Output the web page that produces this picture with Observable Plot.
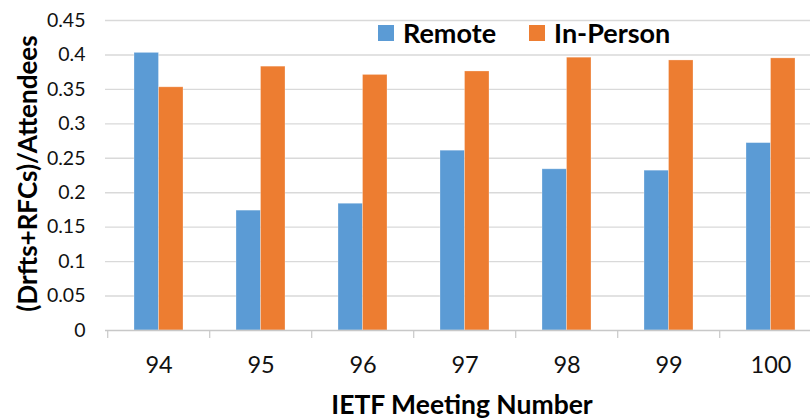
<!DOCTYPE html>
<html>
<head>
<meta charset="utf-8">
<script src="https://cdn.jsdelivr.net/npm/d3@7"></script>
<script src="https://cdn.jsdelivr.net/npm/@observablehq/plot@0.6"></script>
<style>
  html, body { margin: 0; padding: 0; background: #fff; overflow: hidden; }
  #wrap { position: relative; width: 810px; height: 419px; font-family: Lato, "Open Sans", sans-serif; }
  #legend { position: absolute; top: 16px; left: 378px; display: flex; align-items: center; font-weight: bold; font-size: 27px; color: #000; }
  #legend .sw { width: 16px; height: 16px; display: inline-block; margin-right: 9px; }
  #legend .item { display: flex; align-items: center; margin-right: 33px; }
</style>
</head>
<body>
<div id="wrap"></div>
<script>
const meetings = ["94", "95", "96", "97", "98", "99", "100"];
const remote = [0.403, 0.174, 0.184, 0.261, 0.234, 0.232, 0.272];
const inPerson = [0.353, 0.383, 0.371, 0.376, 0.396, 0.392, 0.395];
const yTicks = [0, 0.05, 0.1, 0.15, 0.2, 0.25, 0.3, 0.35, 0.4, 0.45];
const yTickLabels = ["0", "0.05", "0.1", "0.15", "0.2", "0.25", "0.3", "0.35", "0.4", "0.45"];
const seriesNames = ["Remote", "In-Person"];
const seriesColors = ["#5B9BD5", "#ED7D31"];
const xTitle = "IETF Meeting Number";
const yTitle = "(Drfts+RFCs)/Attendees";

const remoteRows = meetings.map((m, i) => ({meeting: m, value: remote[i], series: seriesNames[0]}));
const inPersonRows = meetings.map((m, i) => ({meeting: m, value: inPerson[i], series: seriesNames[1]}));
const yTickRows = yTicks.map((v, i) => ({value: v, label: yTickLabels[i]}));

const font = "Lato, 'Open Sans', sans-serif";
const W = 810, H = 419;
const left = 105, right = 823;
const step = (right - left) / meetings.length;
const bandPad = 0.522;
const half = step * (1 - bandPad) / 2;

const chart = Plot.plot({
  width: W,
  height: H,
  marginTop: 20,
  marginBottom: 89,
  marginLeft: left,
  marginRight: 0,
  style: {fontFamily: font, background: "white", overflow: "hidden"},
  x: {domain: meetings, range: [left, right], paddingInner: bandPad, paddingOuter: bandPad / 2, axis: null},
  y: {domain: [0, 0.45], axis: null},
  marks: [
    Plot.ruleY(yTicks.filter(v => v > 0), {stroke: "#d9d9d9", strokeWidth: 1.4}),
    Plot.barY(remoteRows, {x: "meeting", y: "value", fill: seriesColors[0], insetRight: half, stroke: "#ffffff", strokeOpacity: 0.35, strokeWidth: 0.8}),
    Plot.barY(inPersonRows, {x: "meeting", y: "value", fill: seriesColors[1], insetLeft: half, stroke: "#ffffff", strokeOpacity: 0.35, strokeWidth: 0.8}),
    Plot.ruleY([0], {stroke: "#c8c8c8", strokeWidth: 1.4}),
    Plot.ruleX(meetings, {x: d => d, dx: -step / 2, y1: 0, y2: 0, insetBottom: -8, stroke: "#c8c8c8", strokeWidth: 1.2}),
    Plot.text(yTickRows, {y: "value", text: "label", frameAnchor: "left", dx: -20, textAnchor: "end", lineAnchor: "middle", fontSize: 19.5, fill: "#111"}),
    Plot.text(meetings, {x: d => d, text: d => d, frameAnchor: "bottom", lineAnchor: "middle", dy: 35, fontSize: 23.5, fill: "#111"}),
    Plot.text([xTitle], {text: d => d, frameAnchor: "bottom", lineAnchor: "middle", textAnchor: "middle", dy: 75, dx: 4, fontSize: 26.5, fontWeight: "bold", fill: "#000"}),
    Plot.text([yTitle], {text: d => d, frameAnchor: "left", textAnchor: "middle", lineAnchor: "middle", dx: -77, dy: -2, rotate: -90, fontSize: 26, fontWeight: "bold", fill: "#000"})
  ]
});

const wrap = document.getElementById("wrap");
wrap.appendChild(chart);
const legend = document.createElement("div");
legend.id = "legend";
seriesNames.forEach((name, i) => {
  const item = document.createElement("span");
  item.className = "item";
  const sw = document.createElement("span");
  sw.className = "sw";
  sw.style.background = seriesColors[i];
  item.appendChild(sw);
  item.appendChild(document.createTextNode(name));
  legend.appendChild(item);
});
wrap.appendChild(legend);
</script>
</body>
</html>
